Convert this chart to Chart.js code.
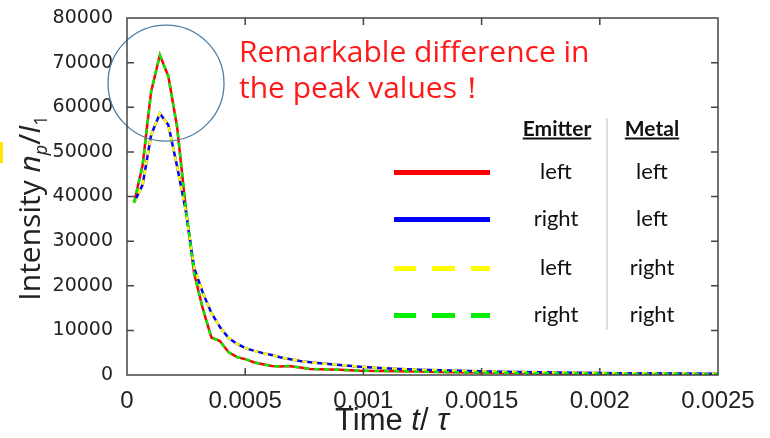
<!DOCTYPE html>
<html>
<head>
<meta charset="utf-8">
<script src="https://cdn.jsdelivr.net/npm/chart.js@4"></script>
<style>
    body { margin: 0; background: #fff; }
    #wrap { position: relative; width: 770px; height: 438px; overflow: hidden; }
    .txt { position: absolute; white-space: nowrap; }
    .note { color: #ff1a1a; font-family: 'Open Sans', sans-serif; font-size: 30px; line-height: 36px; left: 239px; top: 33px; }
    .ytitle { font-family: 'Open Sans', sans-serif; font-size: 30px; color: #222; left: 30px; top: 208px; transform: translate(-50%, -50%) rotate(-90deg); }
    .xtitle { font-family: 'Liberation Sans', sans-serif; font-size: 31px; line-height: 1; color: #222; left: 335px; top: 404px; }
    .lg { font-family: Lato, 'Open Sans', sans-serif; font-size: 22px; color: #111; transform: translate(-50%, -50%); }
    .hd { font-weight: bold; text-decoration: underline; font-size: 21px; }
    .sample { position: absolute; left: 394px; width: 96px; height: 5px; }
</style>
</head>
<body>
<div id="wrap">
    <canvas id="chart" width="770" height="438"></canvas>
</div>
<script>
// Data
const times = [0.00003, 0.000066, 0.000102, 0.000139, 0.000175, 0.000212, 0.000248, 0.000284, 0.000321, 0.000357,
    0.000393, 0.00043, 0.000466, 0.000503, 0.000539, 0.000575, 0.000612, 0.000647, 0.000685, 0.000732,
    0.000775, 0.000816, 0.000901, 0.000986, 0.00107, 0.001155, 0.00124, 0.001324, 0.001409, 0.001578,
    0.001832, 0.002086, 0.00234, 0.0025];

// emitter left / metal left (red) and emitter right / metal right (green) overlap
const sameSideVals = [38600, 47000, 63500, 71700, 66900, 55600, 37700, 22800, 14800, 8400,
    7600, 5100, 4000, 3500, 2800, 2400, 2000, 1900, 2000, 1700,
    1350, 1300, 1150, 960, 900, 830, 760, 680, 600, 480,
    350, 260, 200, 170];

// emitter right / metal left (blue) and emitter left / metal right (yellow) overlap
const crossSideVals = [38600, 42600, 53800, 58600, 56000, 46700, 37000, 24000, 18400, 13900,
    10750, 8300, 6950, 5950, 5400, 4900, 4500, 3970, 3600, 3140,
    2850, 2620, 2240, 1860, 1570, 1340, 1190, 1050, 960, 740,
    560, 420, 330, 280];

const xTickLabels = ['0', '0.0005', '0.001', '0.0015', '0.002', '0.0025'];
const yTickLabels = ['0', '10000', '20000', '30000', '40000', '50000', '60000', '70000', '80000'];

const seriesNames = ['Emitter left / Metal left', 'Emitter right / Metal left', 'Emitter left / Metal right', 'Emitter right / Metal right'];
const seriesColors = ['#ff0000', '#0000ff', '#ffff00', '#00ee00'];
const legendEmitter = ['left', 'right', 'left', 'right'];
const legendMetal = ['left', 'left', 'right', 'right'];

const toPoints = vals => times.map((t, i) => ({ x: t, y: vals[i] }));

// Frame with inward ticks and the highlight circle
const framePlugin = {
    id: 'frame',
    afterDatasetsDraw(chart) {
        const { ctx, scales: { x, y } } = chart;
        ctx.save();
        ctx.strokeStyle = '#4f7ea6';
        ctx.lineWidth = 1.3;
        ctx.beginPath();
        ctx.arc(x.getPixelForValue(0.000165), y.getPixelForValue(65400), 58, 0, Math.PI * 2);
        ctx.stroke();
        ctx.restore();
    },
    afterDraw(chart) {
        const { ctx, chartArea: { left, right, top, bottom }, scales: { x, y } } = chart;
        ctx.save();
        ctx.strokeStyle = '#444';
        ctx.lineWidth = 1.5;
        ctx.strokeRect(left, top, right - left, bottom - top);
        ctx.beginPath();
        for (let i = 1; i < xTickLabels.length - 1; i++) {
            const px = x.getPixelForValue(i * 0.0005);
            ctx.moveTo(px, bottom); ctx.lineTo(px, bottom - 7);
            ctx.moveTo(px, top); ctx.lineTo(px, top + 7);
        }
        for (let i = 1; i < yTickLabels.length - 1; i++) {
            const py = y.getPixelForValue(i * 10000);
            ctx.moveTo(left, py); ctx.lineTo(left + 7, py);
            ctx.moveTo(right, py); ctx.lineTo(right - 7, py);
        }
        ctx.stroke();
        ctx.restore();
    }
};

const ctx = document.getElementById('chart').getContext('2d');
new Chart(ctx, {
    type: 'line',
    data: {
        datasets: [
            { label: seriesNames[0], data: toPoints(sameSideVals), borderColor: seriesColors[0], order: 4 },
            { label: seriesNames[1], data: toPoints(crossSideVals), borderColor: seriesColors[1], order: 3 },
            { label: seriesNames[2], data: toPoints(crossSideVals), borderColor: seriesColors[2], borderDash: [5, 5], order: 2 },
            { label: seriesNames[3], data: toPoints(sameSideVals), borderColor: seriesColors[3], borderDash: [5, 5], order: 1 }
        ]
    },
    options: {
        responsive: false,
        animation: false,
        layout: { padding: { left: 0, right: 52, top: 18, bottom: 0 } },
        elements: {
            point: { radius: 0 },
            line: { borderWidth: 2.5, tension: 0 }
        },
        plugins: {
            legend: { display: false },
            tooltip: { enabled: false }
        },
        scales: {
            x: {
                type: 'linear',
                min: 0,
                max: 0.0025,
                grid: { display: false },
                border: { display: false },
                afterFit: scale => { scale.height = 63; },
                ticks: {
                    stepSize: 0.0005,
                    maxRotation: 0,
                    padding: 4,
                    color: '#222',
                    font: { family: "'Liberation Sans', sans-serif", size: 24 },
                    callback: value => xTickLabels[Math.round(value / 0.0005)]
                }
            },
            y: {
                min: 0,
                max: 80000,
                grid: { display: false },
                border: { display: false },
                afterFit: scale => { scale.width = 127; },
                ticks: {
                    stepSize: 10000,
                    padding: 6,
                    color: '#222',
                    font: { family: "'DejaVu Sans', sans-serif", size: 19 },
                    callback: value => yTickLabels[Math.round(value / 10000)]
                }
            }
        }
    },
    plugins: [framePlugin]
});

// Text overlays: annotation, axis titles and the table-style legend
const wrap = document.getElementById('wrap');
function addText(cls, html, x, y) {
    const el = document.createElement('div');
    el.className = 'txt ' + cls;
    el.innerHTML = html;
    if (x !== undefined) { el.style.left = x + 'px'; el.style.top = y + 'px'; }
    wrap.appendChild(el);
    return el;
}

addText('note', 'Remarkable difference in<br>the peak values！');
addText('ytitle', 'Intensity <i>n</i><sub style="font-size:18px"><i>p</i></sub>/<i>I</i><sub style="font-size:18px">1</sub>');
addText('xtitle', 'Time <i>t</i>/ <i>τ</i>');

addText('lg hd', 'Emitter', 557, 127);
addText('lg hd', 'Metal', 652, 127);

const sep = document.createElement('div');
sep.style.cssText = 'position:absolute;left:606px;top:118px;width:2px;height:212px;background:#ddd;';
wrap.appendChild(sep);

const rowY = [172, 219, 268, 315];
rowY.forEach((ry, i) => {
    const s = document.createElement('div');
    s.className = 'sample';
    s.style.top = (ry - 2.5) + 'px';
    if (i < 2) {
        s.style.background = seriesColors[i];
    } else {
        s.style.background = `repeating-linear-gradient(to right, ${seriesColors[i]} 0 22px, transparent 22px 38.5px)`;
    }
    wrap.appendChild(s);
    addText('lg', legendEmitter[i], 556, ry - 2);
    addText('lg', legendMetal[i], 652, ry - 2);
});

// small yellow mark at the left edge
const mark = document.createElement('div');
mark.style.cssText = 'position:absolute;left:0;top:142px;width:3px;height:21px;background:#ffe600;';
wrap.appendChild(mark);
</script>
</body>
</html>
